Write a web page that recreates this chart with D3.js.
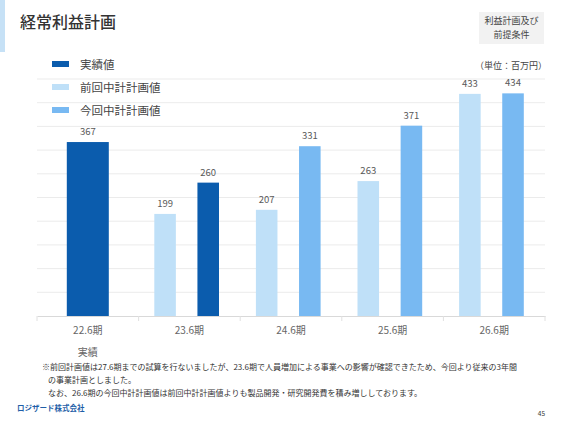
<!DOCTYPE html>
<html>
<head>
<meta charset="utf-8">
<script src="https://cdn.jsdelivr.net/npm/d3@7"></script>
<style>
  body { margin: 0; background: #fff; }
  svg { display: block; font-family: "Noto Sans CJK JP", "Noto Sans", sans-serif; }
</style>
</head>
<body>
<div id="chart"></div>
<script>
// 経常利益計画 chart (実績 panel + 計画 panel share one frame)

const categories = ["22.6期", "23.6期", "24.6期", "25.6期", "26.6期"];
const actualValues = [367, 260, null, null, null];     // 実績値
const prevPlanValues = [null, 199, 207, 263, 433];     // 前回中計計画値
const currPlanValues = [null, null, 331, 371, 434];    // 今回中計計画値
const seriesNames = ["実績値", "前回中計計画値", "今回中計計画値"];
const gridCount = 10;
const planMax = 462;     // axis max of the plan panel
const actualMax = 500;   // axis max of the 22.6期 actual panel

const colors = ["#0b5cad", "#bfe0f8", "#78b9f2"];

let width = 567;
let height = 425;

let svg = d3.select("#chart")
    .append("svg")
    .attr("width", width)
    .attr("height", height)
;

// slide decoration
svg.append("rect").attr("x", 0).attr("y", 0).attr("width", 5).attr("height", 52).attr("fill", "#c6e1f6");
svg.append("text").attr("x", 20).attr("y", 28)
    .attr("font-size", 16).attr("font-weight", 500).attr("fill", "#333")
    .text("経常利益計画");

svg.append("rect").attr("x", 479).attr("y", 12).attr("width", 65).attr("height", 32).attr("fill", "#f2f2f2");
svg.append("text").attr("x", 511.5).attr("y", 24).attr("text-anchor", "middle")
    .attr("font-size", 9).attr("fill", "#444").text("利益計画及び");
svg.append("text").attr("x", 511.5).attr("y", 38).attr("text-anchor", "middle")
    .attr("font-size", 9).attr("fill", "#444").text("前提条件");

svg.append("text").attr("x", 547).attr("y", 69).attr("text-anchor", "end")
    .attr("font-size", 9).attr("fill", "#444").text("（単位：百万円）");

// scales
let x = d3.scaleBand()
    .domain(categories)
    .range([37, 545])
;

let y = d3.scaleLinear()
    .domain([0, planMax])
    .range([316, 79])
;

let yActual = d3.scaleLinear()
    .domain([0, actualMax])
    .range([316, 79])
;

let inner = d3.scaleBand()
    .domain([0, 1])
    .range([15.7, 80.4])
    .paddingInner(0.5)
;

// gridlines
svg.append("g")
    .selectAll("line")
    .data(d3.range(1, gridCount + 1).map(i => i * planMax / gridCount))
    .enter()
    .append("line")
    .attr("x1", 37).attr("x2", 545)
    .attr("y1", d => y(d)).attr("y2", d => y(d))
    .attr("stroke", "#e6e6e6").attr("stroke-width", 0.8)
;

// bars
let bars = [];
categories.forEach((c, i) => {
    let list = [];
    if (prevPlanValues[i] != null) list.push({ s: 1, v: prevPlanValues[i] });
    if (actualValues[i] != null) list.push({ s: 0, v: actualValues[i] });
    if (currPlanValues[i] != null) list.push({ s: 2, v: currPlanValues[i] });
    list.forEach((b, j) => {
        let bx, bw, sc;
        if (list.length === 1) {
            bw = 42;
            bx = x(c) + x.bandwidth() / 2 - bw / 2;
            sc = yActual;
        } else {
            bw = inner.bandwidth();
            bx = x(c) + inner(j);
            sc = y;
        }
        bars.push({ c: c, s: b.s, v: b.v, x: bx, w: bw, top: sc(b.v), base: sc(0) });
    });
});

svg.append("g")
    .selectAll("rect")
    .data(bars)
    .enter()
    .append("rect")
    .attr("x", d => d.x)
    .attr("width", d => d.w)
    .attr("y", d => d.top)
    .attr("height", d => d.base - d.top)
    .attr("fill", d => colors[d.s])
;

svg.append("g")
    .selectAll("text")
    .data(bars)
    .enter()
    .append("text")
    .attr("x", d => d.x + d.w / 2)
    .attr("y", d => d.top - 7)
    .attr("text-anchor", "middle")
    .attr("font-size", 9.5)
    .attr("fill", "#595959")
    .text(d => d.v)
;

// x axis
let xAxis = svg.append("g")
    .attr("transform", "translate(0,316)")
    .call(d3.axisBottom(x).tickSize(0).tickPadding(11))
;
xAxis.select(".domain").attr("stroke", "#d9d9d9");
xAxis.selectAll("text").attr("font-size", 10).attr("fill", "#666")
    .attr("font-family", "'Noto Sans CJK JP', sans-serif");

svg.append("g")
    .selectAll("line")
    .data(categories.concat([null]))
    .enter()
    .append("line")
    .attr("x1", d => d ? x(d) : x.range()[1])
    .attr("x2", d => d ? x(d) : x.range()[1])
    .attr("y1", 316).attr("y2", 321)
    .attr("stroke", "#e0e0e0")
;

svg.append("text").attr("x", x(categories[0]) + x.bandwidth() / 2).attr("y", 356)
    .attr("text-anchor", "middle").attr("font-size", 10).attr("fill", "#666").text("実績");

// legend
let legend = svg.append("g")
    .selectAll("g")
    .data(seriesNames)
    .enter()
    .append("g")
    .attr("transform", (d, i) => "translate(52," + (64 + i * 23) + ")")
;
legend.append("rect").attr("x", 0).attr("y", -3).attr("width", 17).attr("height", 6)
    .attr("fill", (d, i) => colors[i]);
legend.append("text").attr("x", 28).attr("y", 4.5)
    .attr("font-size", 11.5).attr("fill", "#444").text(d => d);

// notes
const notes = [
    "※前回計画値は27.6期までの試算を行ないましたが、23.6期で人員増加による事業への影響が確認できたため、今回より従来の3年間",
    "の事業計画としました。",
    "なお、26.6期の今回中計計画値は前回中計計画値よりも製品開発・研究開発費を積み増ししております。"
];
svg.append("g")
    .selectAll("text")
    .data(notes)
    .enter()
    .append("text")
    .attr("x", (d, i) => i === 0 ? 42 : 48)
    .attr("y", (d, i) => 370 + i * 13)
    .attr("font-size", 8)
    .attr("fill", "#333")
    .text(d => d)
;

svg.append("text").attr("x", 17).attr("y", 411)
    .attr("font-size", 7.5).attr("font-weight", "bold").attr("fill", "#1f5fa8").text("ロジザード株式会社");
svg.append("text").attr("x", 545).attr("y", 416).attr("text-anchor", "end")
    .attr("font-size", 6.5).attr("fill", "#333").text("45");
</script>
</body>
</html>
